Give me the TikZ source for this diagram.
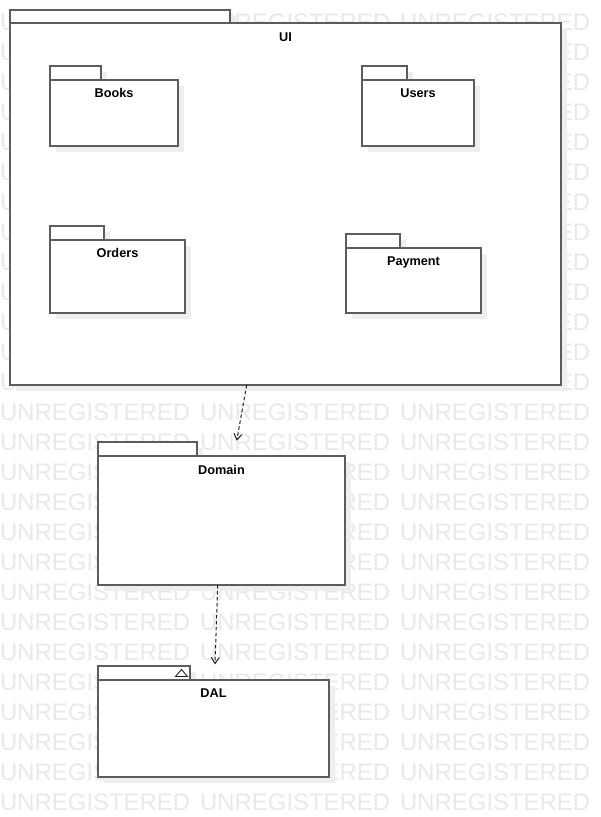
\documentclass[tikz,border=0pt]{standalone}
\usepackage{fontspec}
\setmainfont{Liberation Sans}
\usetikzlibrary{arrows.meta,shadows,calc}
\definecolor{wmgray}{RGB}{233,233,233}
\definecolor{shgray}{RGB}{238,238,238}
\definecolor{linegray}{RGB}{92,92,92}
\definecolor{arrowgray}{RGB}{30,30,30}
\begin{document}
\begin{tikzpicture}[x=1pt,y=-1pt,
  pkg/.style={draw=linegray, line width=1.4pt, fill=white, rectangle, inner sep=0pt, outer sep=0pt,
    drop shadow={shadow xshift=6pt, shadow yshift=-6pt, fill=shgray, opacity=1, draw=none}},
  pkgtext/.style={anchor=base, inner sep=0pt, font=\bfseries\fontsize{12.7}{14}\selectfont, text=black},
  wm/.style={anchor=base west, inner sep=0pt, text=wmgray, font=\fontsize{23.9}{24}\selectfont},
  dep/.style={draw=arrowgray, line width=1pt, dash pattern=on 3.5pt off 2.5pt, -{Straight Barb[length=6pt,width=8pt,line width=1pt]}}
]
\useasboundingbox (0,0) rectangle (601,817);
\fill[white] (0,0) rectangle (601,817);
% watermark
\foreach \k in {0,...,26}{
  \foreach \c in {0,200,400}{
    \node[wm] at (\c,30+30*\k) {UNREGISTERED};
  }
}
% UI package
\node[pkg, anchor=south west, minimum width=220pt, minimum height=13pt] (uitab) at (10,23) {};
\node[pkg, anchor=north west, minimum width=551pt, minimum height=362pt] (ui) at (10,23) {};
\node[pkgtext] (uilabel) at ([yshift=-18.5pt]ui.north) {UI};
% Books
\node[pkg, anchor=south west, minimum width=51pt, minimum height=14pt] (bookstab) at (50,80) {};
\node[pkg, anchor=north west, minimum width=128pt, minimum height=66pt] (books) at (50,80) {};
\node[pkgtext] (bookslabel) at ([yshift=-17.5pt]books.north) {Books};
% Users
\node[pkg, anchor=south west, minimum width=45pt, minimum height=14pt] (userstab) at (362,80) {};
\node[pkg, anchor=north west, minimum width=112pt, minimum height=66pt] (users) at (362,80) {};
\node[pkgtext] (userslabel) at ([yshift=-17.5pt]users.north) {Users};
% Orders
\node[pkg, anchor=south west, minimum width=54pt, minimum height=14pt] (orderstab) at (50,240) {};
\node[pkg, anchor=north west, minimum width=135pt, minimum height=73pt] (orders) at (50,240) {};
\node[pkgtext] (orderslabel) at ([yshift=-17.5pt]orders.north) {Orders};
% Payment
\node[pkg, anchor=south west, minimum width=54pt, minimum height=14pt] (paymenttab) at (346,248) {};
\node[pkg, anchor=north west, minimum width=135pt, minimum height=65pt] (payment) at (346,248) {};
\node[pkgtext] (paymentlabel) at ([yshift=-17.5pt]payment.north) {Payment};
% Domain
\node[pkg, anchor=south west, minimum width=99pt, minimum height=14pt] (domaintab) at (98,456) {};
\node[pkg, anchor=north west, minimum width=247pt, minimum height=129pt] (domain) at (98,456) {};
\node[pkgtext] (domainlabel) at ([yshift=-18pt]domain.north) {Domain};
% DAL
\node[pkg, anchor=south west, minimum width=92pt, minimum height=14pt] (daltab) at (98,680) {};
\node[pkg, anchor=north west, minimum width=231pt, minimum height=97pt] (dal) at (98,680) {};
\node[pkgtext] (dallabel) at ([yshift=-17.5pt]dal.north) {DAL};
\draw[draw=arrowgray, line width=0.9pt, line join=miter]
  ($(daltab.north east)+(-14.5,10.5)$) -- ($(daltab.north east)+(-2.5,10.5)$) -- ($(daltab.north east)+(-8.5,3.5)$) -- cycle;
% dependencies
\draw[dep] ([xshift=-38.8pt]ui.south) -- ([xshift=15.2pt,yshift=15.3pt]domain.north);
\draw[dep] ([xshift=-3.8pt]domain.south) -- ([xshift=1.5pt,yshift=15.7pt]dal.north);
\end{tikzpicture}
\end{document}
